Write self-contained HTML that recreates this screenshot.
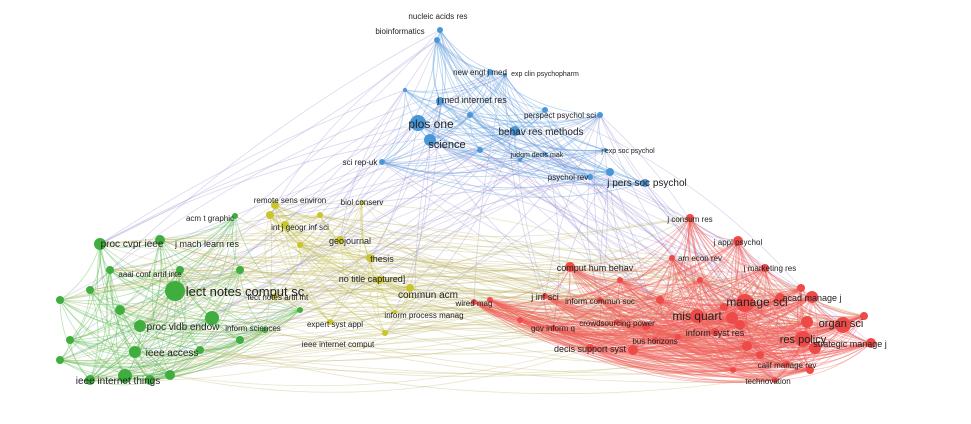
<!DOCTYPE html>
<html><head><meta charset="utf-8"><style>
html,body{margin:0;padding:0;background:#fff;width:971px;height:424px;overflow:hidden}
svg text{font-family:"Liberation Sans",sans-serif;fill:#222;}
</style></head><body>
<svg id="s" width="971" height="424" viewBox="0 0 971 424" xmlns="http://www.w3.org/2000/svg">
<g id="edges" fill="none"></g><g id="nodes"></g><g id="labels"></g>
</svg>
<script>
var C={b:'#4a97d8',y:'#c9c52a',g:'#3fae3f',r:'#ee4a48'};
var EC={b:'rgba(100,165,225,0.45)',y:'rgba(200,200,80,0.4)',g:'rgba(90,185,80,0.42)',r:'rgba(240,95,90,0.42)'};
var N=[
['b',440,30,3,'nucleic acids res',438,19,8],['b',437,40,3,'bioinformatics',400,34,8],
['b',490,72,3,'new engl j med',480,75,8],['b',505,75,2,'exp clin psychopharm',545,76,7],
['b',440,101,4,'j med internet res',472,103,9],['b',418,123,8,'plos one',431,128,12],
['b',430,140,6,'science',447,148,11],['b',515,131,5,'behav res methods',541,135,10],
['b',600,115,3,'perspect psychol sci',560,118,8],['b',545,154,2,'judgm decis mak',537,157,7],
['b',605,150,2,'j exp soc psychol',628,153,7],['b',382,162,3,'sci rep-uk',360,165,8],
['b',590,177,3,'psychol rev',568,180,8],['b',610,172,4,'j pers soc psychol',647,186,10],['b',645,183,4,'',0,0,0],
['b',470,115,3,'',0,0,0],['b',545,110,3,'',0,0,0],['b',480,150,3,'',0,0,0],['b',520,160,2,'',0,0,0],['b',405,90,2,'',0,0,0],
['y',275,205,4,'remote sens environ',290,203,8],['y',362,202,2,'biol conserv',362,205,8],
['y',270,215,4,'',0,0,0],['y',285,225,4,'int j geogr inf sci',300,230,8],['y',340,240,4,'geojournal',350,244,9],
['y',370,258,4,'thesis',382,262,9],['y',380,280,4,'no title captured]',372,282,9],
['y',410,288,4,'',0,0,0],['y',385,333,3,'ieee internet comput',338,347,8],['y',275,296,3,'lect notes artif int',278,300,8],
['y',300,245,3,'',0,0,0],['y',320,215,3,'',0,0,0],
['g',235,216,3,'acm t graphic',210,221,8],['g',100,244,6,'proc cvpr ieee',132,247,10],
['g',160,240,5,'j mach learn res',207,247,9],['g',110,270,4,'aaai conf artif inte',150,277,8],
['g',175,291,10,'lect notes comput sc',245,296,13],['g',140,326,6,'',0,0,0],['g',212,318,7,'proc vldb endow',183,330,10],
['g',265,330,3,'inform sciences',253,331,8],['g',135,352,6,'ieee access',172,356,10],['g',125,376,7,'ieee internet things',118,384,10],
['g',60,300,4,'',0,0,0],['g',70,340,4,'',0,0,0],['g',90,380,5,'',0,0,0],['g',150,380,5,'',0,0,0],['g',200,350,4,'',0,0,0],
['g',240,270,4,'',0,0,0],['g',90,290,4,'',0,0,0],['g',120,310,5,'',0,0,0],['g',180,270,4,'',0,0,0],['g',300,310,3,'',0,0,0],
['g',60,360,4,'',0,0,0],['g',170,375,5,'',0,0,0],['g',240,340,4,'',0,0,0],
['y',415,298,0,'commun acm',428,298,10],['y',395,312,2,'inform process manag',424,318,8],['y',330,322,3,'expert syst appl',335,327,8],
['r',690,218,4,'j consum res',690,222,8],['r',738,241,5,'j appl psychol',738,245,8],['r',672,258,3,'am econ rev',700,261,8],
['r',765,268,4,'j marketing res',770,271,8],['r',570,267,5,'comput hum behav',595,271,9],['r',545,296,3,'j inf sci',545,300,9],
['r',474,302,3,'wired mag',474,306,8],['r',600,300,3,'inform commun soc',600,304,8],['r',745,303,9,'manage sci',757,306,12],
['r',812,297,6,'acad manage j',812,301,9],['r',697,316,7,'mis quart',697,320,12],['r',617,322,3,'crowdsourcing power',617,326,8],
['r',553,328,3,'gov inform q',553,331,8],['r',715,332,4,'inform syst res',715,336,9],['r',843,325,8,'organ sci',841,327,11],
['r',803,339,8,'res policy',803,343,11],['r',590,348,4,'decis support syst',590,352,9],['r',655,340,3,'bus horizons',655,344,8],
['r',871,343,5,'strategic manage j',850,347,9],['r',787,364,3,'calif manage rev',787,368,8],['r',775,380,3,'technovation',768,384,8],
['r',732,318,6,'',0,0,0],['r',740,325,5,'',0,0,0],['r',807,322,6,'',0,0,0],['r',815,348,6,'',0,0,0],['r',780,298,5,'',0,0,0],
['r',801,288,4,'',0,0,0],['r',864,316,4,'',0,0,0],['r',646,326,4,'',0,0,0],['r',678,337,3,'',0,0,0],['r',747,346,5,'',0,0,0],
['r',724,307,4,'',0,0,0],['r',733,370,3,'',0,0,0],['r',633,350,5,'',0,0,0],['r',810,370,4,'',0,0,0],['r',520,320,3,'',0,0,0],
['r',490,300,3,'',0,0,0],['r',660,300,4,'',0,0,0],['r',700,280,3,'',0,0,0],['r',620,280,3,'',0,0,0],['r',760,355,4,'',0,0,0]
];
var seed=7;function rnd(){seed=(seed*16807)%2147483647;return seed/2147483647;}
var e=document.getElementById('edges'),nd=document.getElementById('nodes'),lb=document.getElementById('labels'),ns='http://www.w3.org/2000/svg';
function curve(a,b,col,k){var dx=b[1]-a[1],dy=b[2]-a[2];var mx=(a[1]+b[1])/2-dy*k,my=(a[2]+b[2])/2+dx*k;
var p=document.createElementNS(ns,'path');p.setAttribute('d','M'+a[1]+' '+a[2]+' Q'+mx+' '+my+' '+b[1]+' '+b[2]);p.setAttribute('stroke',col);p.setAttribute('stroke-width','0.8');e.appendChild(p);}
for(var i=0;i<N.length;i++){for(var j=i+1;j<N.length;j++){var a=N[i],b=N[j];
 var same=a[0]==b[0];var pr=same?(a[0]=='r'?0.8:0.65):0.06;
 if(rnd()<pr){var col=same?EC[a[0]]:(a[0]=='b'||b[0]=='b')?'rgba(150,140,210,0.35)':'rgba(190,180,100,0.35)';
 var k=same?0.18:(0.04+rnd()*0.1)*(rnd()<0.5?-1:1);
 if(a[1]>b[1])curve(b,a,col,k);else curve(a,b,col,k);}}}
N.forEach(function(n){if(n[3]>0){var c=document.createElementNS(ns,'circle');c.setAttribute('cx',n[1]);c.setAttribute('cy',n[2]);c.setAttribute('r',n[3]);c.setAttribute('fill',C[n[0]]);nd.appendChild(c);}
 if(n[4]){var t=document.createElementNS(ns,'text');t.setAttribute('x',n[5]);t.setAttribute('y',n[6]);t.setAttribute('font-size',n[7]);t.setAttribute('text-anchor','middle');t.textContent=n[4];lb.appendChild(t);}});
</script>
</body></html>
